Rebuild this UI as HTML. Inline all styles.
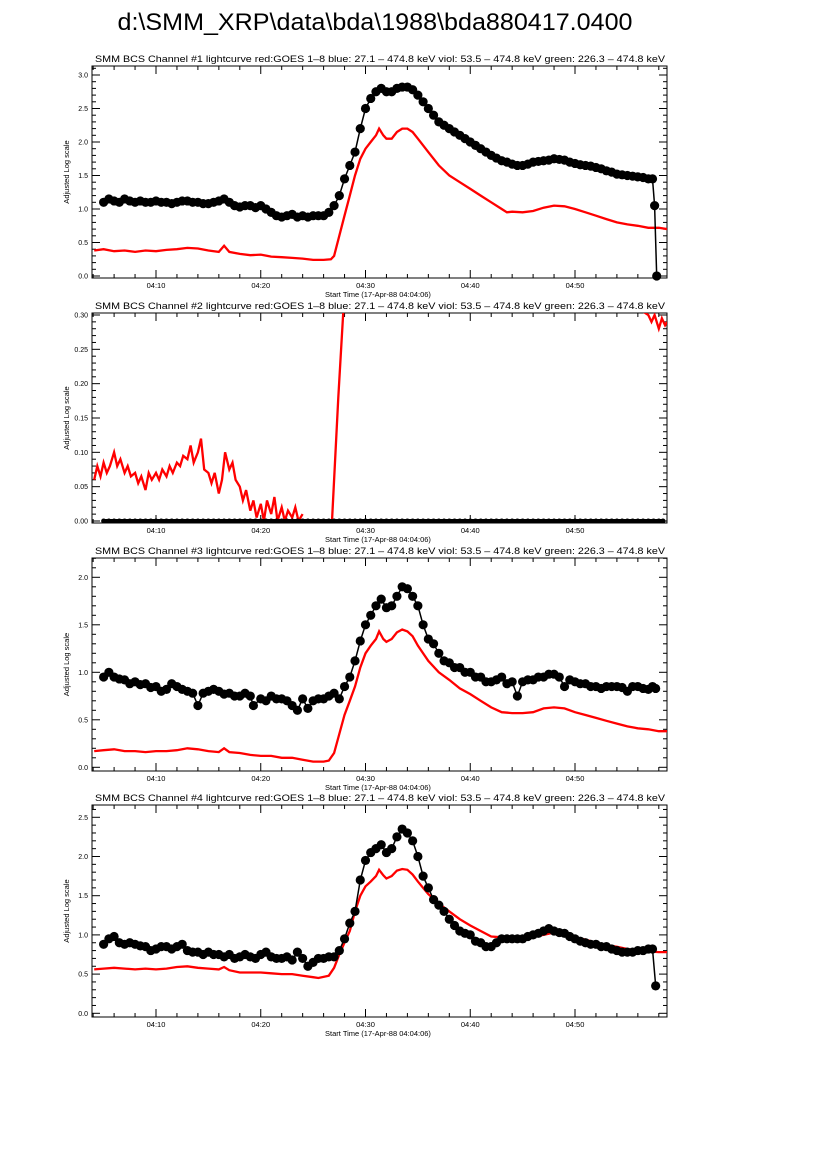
<!DOCTYPE html>
<html><head><meta charset="utf-8"><style>
html,body{margin:0;padding:0;background:#fff;width:826px;height:1169px;overflow:hidden}
svg{display:block;font-family:"Liberation Sans",sans-serif}
</style></head><body>
<svg id="fig" width="826" height="1169" viewBox="0 0 826 1169">
<text x="375" y="30" font-size="24" text-anchor="middle" textLength="515" lengthAdjust="spacingAndGlyphs">d:\SMM_XRP\data\bda\1988\bda880417.0400</text>
</svg>
<script>
// ---- data (time in minutes after 04:00) ----
const xTickLabels = ["04:10","04:20","04:30","04:40","04:50"];
const xTickMinutes = [10,20,30,40,50];

const p1BlackT = [5,5.5,6,6.5,7,7.5,8,8.5,9,9.5,10,10.5,11,11.5,12,12.5,13,13.5,14,14.5,15,15.5,16,16.5,17,17.5,18,18.5,19,19.5,20,20.5,21,21.5,22,22.5,23,23.5,24,24.5,25,25.5,26,26.5,27,27.5,28,28.5,29,29.5,30,30.5,31,31.5,32,32.5,33,33.5,34,34.5,35,35.5,36,36.5,37,37.5,38,38.5,39,39.5,40,40.5,41,41.5,42,42.5,43,43.5,44,44.5,45,45.5,46,46.5,47,47.5,48,48.5,49,49.5,50,50.5,51,51.5,52,52.5,53,53.5,54,54.5,55,55.5,56,56.5,57,57.4,57.6,57.8];
const p1BlackV = [1.1,1.15,1.12,1.1,1.15,1.12,1.1,1.12,1.1,1.1,1.12,1.1,1.1,1.08,1.1,1.12,1.12,1.1,1.1,1.08,1.08,1.1,1.12,1.15,1.1,1.05,1.03,1.05,1.05,1.02,1.05,1.0,0.95,0.9,0.88,0.9,0.92,0.88,0.9,0.88,0.9,0.9,0.9,0.95,1.05,1.2,1.45,1.65,1.85,2.2,2.5,2.65,2.75,2.8,2.75,2.75,2.8,2.82,2.82,2.78,2.7,2.6,2.5,2.4,2.3,2.25,2.2,2.15,2.1,2.05,2.0,1.95,1.9,1.85,1.8,1.76,1.72,1.7,1.67,1.65,1.65,1.67,1.7,1.71,1.72,1.73,1.75,1.74,1.73,1.7,1.68,1.66,1.65,1.64,1.62,1.6,1.57,1.55,1.52,1.51,1.5,1.49,1.48,1.47,1.45,1.45,1.05,0.0];
const p1RedT = [4.1,5,6,7,8,9,10,11,12,13,14,15,16,16.5,17,18,19,20,21,22,23,24,25,26,26.7,27,27.5,28,28.5,29,29.5,30,30.5,31,31.3,31.7,32,32.5,33,33.5,34,34.5,35,36,37,38,39,40,41,42,43,43.5,44,45,46,47,48,49,50,51,52,53,54,55,56,57,58,58.8];
const p1RedV = [0.38,0.4,0.37,0.38,0.36,0.38,0.37,0.39,0.4,0.42,0.41,0.38,0.36,0.45,0.36,0.33,0.31,0.32,0.29,0.28,0.27,0.26,0.24,0.24,0.25,0.3,0.6,0.9,1.2,1.5,1.75,1.9,2.0,2.1,2.2,2.1,2.05,2.05,2.15,2.2,2.2,2.15,2.05,1.85,1.65,1.5,1.4,1.3,1.2,1.1,1.0,0.95,0.96,0.95,0.97,1.02,1.05,1.04,1.0,0.95,0.9,0.85,0.8,0.77,0.75,0.72,0.72,0.7];

const p2BlackT = [5,5.5,6,6.5,7,7.5,8,8.5,9,9.5,10,10.5,11,11.5,12,12.5,13,13.5,14,14.5,15,15.5,16,16.5,17,17.5,18,18.5,19,19.5,20,20.5,21,21.5,22,22.5,23,23.5,24,24.5,25,25.5,26,26.5,27,27.5,28,28.5,29,29.5,30,30.5,31,31.5,32,32.5,33,33.5,34,34.5,35,35.5,36,36.5,37,37.5,38,38.5,39,39.5,40,40.5,41,41.5,42,42.5,43,43.5,44,44.5,45,45.5,46,46.5,47,47.5,48,48.5,49,49.5,50,50.5,51,51.5,52,52.5,53,53.5,54,54.5,55,55.5,56,56.5,57,57.5,58,58.4];
const p2BlackV = [0,0,0,0,0,0,0,0,0,0,0,0,0,0,0,0,0,0,0,0,0,0,0,0,0,0,0,0,0,0,0,0,0,0,0,0,0,0,0,0,0,0,0,0,0,0,0,0,0,0,0,0,0,0,0,0,0,0,0,0,0,0,0,0,0,0,0,0,0,0,0,0,0,0,0,0,0,0,0,0,0,0,0,0,0,0,0,0,0,0,0,0,0,0,0,0,0,0,0,0,0,0,0,0,0,0,0,0];
const p2RedT = [4.1,4.4,4.7,5,5.3,5.6,6,6.3,6.6,7,7.3,7.6,8,8.3,8.6,9,9.3,9.6,10,10.3,10.6,11,11.3,11.6,12,12.3,12.6,13,13.3,13.6,14,14.3,14.6,15,15.3,15.6,16,16.3,16.6,17,17.3,17.6,18,18.3,18.6,19,19.3,19.6,20,20.3,20.6,21,21.3,21.6,22,22.3,22.6,23,23.3,23.6,24];
const p2RedV = [0.06,0.08,0.065,0.085,0.07,0.08,0.1,0.08,0.09,0.07,0.08,0.065,0.07,0.055,0.065,0.045,0.07,0.06,0.07,0.06,0.075,0.065,0.08,0.07,0.085,0.08,0.095,0.09,0.11,0.085,0.1,0.12,0.075,0.07,0.055,0.07,0.04,0.06,0.1,0.075,0.085,0.06,0.05,0.03,0.045,0.015,0.03,0.005,0.025,0.0,0.03,0.01,0.035,0.0,0.02,0.0,0.015,0.005,0.02,0.0,0.01];
const p2RiseT = [26.8,27.4,27.9];
const p2RiseV = [0.0,0.18,0.31];
const p2TailT = [56.5,57,57.3,57.6,58,58.3,58.6,58.8];
const p2TailV = [0.305,0.3,0.29,0.3,0.28,0.295,0.285,0.29];

const p3BlackT = [5,5.5,6,6.5,7,7.5,8,8.5,9,9.5,10,10.5,11,11.5,12,12.5,13,13.5,14,14.5,15,15.5,16,16.5,17,17.5,18,18.5,19,19.3,20,20.5,21,21.5,22,22.5,23,23.5,24,24.5,25,25.5,26,26.5,27,27.5,28,28.5,29,29.5,30,30.5,31,31.5,32,32.5,33,33.5,34,34.5,35,35.5,36,36.5,37,37.5,38,38.5,39,39.5,40,40.5,41,41.5,42,42.5,43,43.5,44,44.5,45,45.5,46,46.5,47,47.5,48,48.5,49,49.5,50,50.5,51,51.5,52,52.5,53,53.5,54,54.5,55,55.5,56,56.5,57,57.4,57.7];
const p3BlackV = [0.95,1.0,0.95,0.93,0.92,0.88,0.9,0.87,0.88,0.84,0.85,0.8,0.82,0.88,0.85,0.82,0.8,0.78,0.65,0.78,0.8,0.82,0.8,0.77,0.78,0.75,0.75,0.78,0.75,0.65,0.72,0.7,0.75,0.72,0.72,0.7,0.65,0.6,0.72,0.62,0.7,0.72,0.72,0.75,0.78,0.72,0.85,0.95,1.12,1.33,1.5,1.6,1.7,1.77,1.68,1.7,1.8,1.9,1.88,1.8,1.7,1.5,1.35,1.3,1.2,1.12,1.1,1.05,1.05,1.0,1.0,0.95,0.95,0.9,0.9,0.92,0.95,0.88,0.9,0.75,0.9,0.92,0.92,0.95,0.95,0.98,0.98,0.95,0.85,0.92,0.9,0.88,0.88,0.85,0.85,0.83,0.85,0.85,0.85,0.84,0.8,0.85,0.85,0.83,0.82,0.85,0.83,0.37];
const p3RedT = [4.1,5,6,7,8,9,10,11,12,13,14,15,16,16.5,17,18,19,20,21,22,23,24,25,26,26.5,27,27.5,28,28.5,29,29.5,30,30.5,31,31.3,31.7,32,32.5,33,33.5,34,34.5,35,36,37,38,39,40,41,42,43,44,45,46,47,48,49,50,51,52,53,54,55,56,57,58,58.8];
const p3RedV = [0.17,0.18,0.19,0.17,0.17,0.16,0.17,0.17,0.18,0.2,0.19,0.17,0.16,0.2,0.16,0.15,0.13,0.12,0.12,0.1,0.1,0.08,0.06,0.06,0.07,0.15,0.35,0.55,0.7,0.85,1.05,1.2,1.28,1.35,1.43,1.35,1.32,1.35,1.42,1.45,1.43,1.38,1.28,1.12,1.0,0.92,0.83,0.77,0.7,0.63,0.58,0.57,0.57,0.58,0.62,0.63,0.62,0.58,0.55,0.52,0.49,0.46,0.43,0.41,0.4,0.38,0.38];

const p4BlackT = [5,5.5,6,6.5,7,7.5,8,8.5,9,9.5,10,10.5,11,11.5,12,12.5,13,13.5,14,14.5,15,15.5,16,16.5,17,17.5,18,18.5,19,19.5,20,20.5,21,21.5,22,22.5,23,23.5,24,24.5,25,25.5,26,26.5,27,27.5,28,28.5,29,29.5,30,30.5,31,31.5,32,32.5,33,33.5,34,34.5,35,35.5,36,36.5,37,37.5,38,38.5,39,39.5,40,40.5,41,41.5,42,42.5,43,43.5,44,44.5,45,45.5,46,46.5,47,47.5,48,48.5,49,49.5,50,50.5,51,51.5,52,52.5,53,53.5,54,54.5,55,55.5,56,56.5,57,57.4,57.7];
const p4BlackV = [0.88,0.95,0.98,0.9,0.88,0.9,0.88,0.86,0.85,0.8,0.82,0.85,0.85,0.82,0.85,0.88,0.8,0.78,0.78,0.75,0.78,0.75,0.75,0.72,0.75,0.7,0.72,0.75,0.72,0.7,0.75,0.78,0.72,0.7,0.7,0.72,0.68,0.78,0.7,0.6,0.65,0.7,0.7,0.72,0.72,0.8,0.95,1.15,1.3,1.7,1.95,2.05,2.1,2.15,2.05,2.1,2.25,2.35,2.3,2.2,2.0,1.75,1.6,1.45,1.38,1.3,1.2,1.12,1.05,1.02,1.0,0.92,0.9,0.85,0.85,0.9,0.95,0.95,0.95,0.95,0.95,0.98,1.0,1.02,1.05,1.08,1.05,1.03,1.02,0.98,0.95,0.92,0.9,0.88,0.88,0.85,0.85,0.82,0.8,0.78,0.78,0.78,0.8,0.8,0.82,0.82,0.35];
const p4RedT = [4.1,5,6,7,8,9,10,11,12,13,14,15,16,16.5,17,18,19,20,21,22,23,24,25,25.5,26.5,27,27.5,28,28.5,29,29.5,30,30.5,31,31.3,31.7,32,32.5,33,33.5,34,34.5,35,36,37,38,39,40,41,42,43,44,45,46,47,48,49,50,51,52,53,54,55,56,57,58,58.8];
const p4RedV = [0.56,0.57,0.58,0.57,0.56,0.57,0.56,0.57,0.59,0.6,0.58,0.57,0.56,0.59,0.55,0.52,0.52,0.52,0.51,0.5,0.5,0.48,0.46,0.45,0.48,0.58,0.75,0.9,1.05,1.3,1.5,1.62,1.68,1.75,1.83,1.76,1.72,1.75,1.82,1.84,1.83,1.77,1.68,1.52,1.4,1.3,1.2,1.12,1.05,0.98,0.97,0.96,0.97,0.98,1.0,1.03,1.0,0.97,0.94,0.9,0.87,0.85,0.82,0.8,0.79,0.78,0.78];

const panelTitles = [1,2,3,4];
const panelYMajor = [[0,0.5,1,1.5,2,2.5,3],[0,0.05,0.1,0.15,0.2,0.25,0.3],[0,0.5,1,1.5,2],[0,0.5,1,1.5,2,2.5]];

// ---- layout ----
const X0=92, X1=667;
function xs(t){ return 156 + (t-10)*10.475; }
const panels = [
 {top:66,bottom:278,zero:276,ppu:67,minor:0.1,dec:1,black:[p1BlackT,p1BlackV],red:[[p1RedT,p1RedV]]},
 {top:313,bottom:523,zero:521,ppu:686.7,minor:0.01,dec:2,black:[p2BlackT,p2BlackV],red:[[p2RedT,p2RedV],[p2RiseT,p2RiseV],[p2TailT,p2TailV]]},
 {top:558,bottom:771,zero:767.3,ppu:95,minor:0.1,dec:1,black:[p3BlackT,p3BlackV],red:[[p3RedT,p3RedV]]},
 {top:805,bottom:1017,zero:1013.3,ppu:78.4,minor:0.1,dec:1,black:[p4BlackT,p4BlackV],red:[[p4RedT,p4RedV]]}
];
const NS="http://www.w3.org/2000/svg";
const svg=document.getElementById('fig');
function mk(tag,attrs,parent){const e=document.createElementNS(NS,tag);for(const k in attrs)e.setAttribute(k,attrs[k]);(parent||svg).appendChild(e);return e;}

panels.forEach((p,i)=>{
  const ys=v=>p.zero - v*p.ppu;
  const g=mk('g',{});
  
  
  const cp=mk('clipPath',{id:'clip'+i},g);
  mk('rect',{x:X0,y:p.top,width:X1-X0,height:p.bottom-p.top},cp);
  const tt=mk('text',{x:380,y:p.top-4,'font-size':9.3,'text-anchor':'middle',textLength:570,lengthAdjust:'spacingAndGlyphs'},g);
  tt.textContent='SMM BCS Channel #'+panelTitles[i]+' lightcurve  red:GOES 1\u20138  blue: 27.1 \u2013 474.8 keV  viol: 53.5 \u2013 474.8 keV  green: 226.3 \u2013 474.8 keV';
  
  
  const box=mk('rect',{x:X0,y:p.top,width:X1-X0,height:p.bottom-p.top,fill:'none',stroke:'#000','stroke-width':1},g);
  
  
  for(let m=4;m<=58;m+=2){const x=xs(m); if(x<X0||x>X1)continue; const L=(m%10===0)?8:4;
    mk('line',{x1:x,y1:p.bottom,x2:x,y2:p.bottom-L,stroke:'#000'},g);
    mk('line',{x1:x,y1:p.top,x2:x,y2:p.top+L,stroke:'#000'},g);}
  xTickMinutes.forEach((m,k)=>{const t=mk('text',{x:xs(m),y:p.bottom+10,'font-size':7.5,'text-anchor':'middle'},g);t.textContent=xTickLabels[k];
    
    });
  const xl=mk('text',{x:378,y:p.bottom+19,'font-size':7.5,'text-anchor':'middle'},g);
  xl.textContent='Start Time (17-Apr-88 04:04:06)';
  
  
  const topV=(p.zero-p.top)/p.ppu;
  for(let k=0;k*p.minor<=topV+1e-9;k++){const v=k*p.minor;const y=ys(v);const major=panelYMajor[i].some(q=>Math.abs(q-v)<1e-9);const L=major?8:4;
    mk('line',{x1:X0,y1:y,x2:X0+L,y2:y,stroke:'#000'},g);
    mk('line',{x1:X1,y1:y,x2:X1-L,y2:y,stroke:'#000'},g);}
  panelYMajor[i].forEach(v=>{const t=mk('text',{x:X0-4,y:ys(v)+2.5,'font-size':7,'text-anchor':'end'},g);t.textContent=v.toFixed(p.dec);
    
    });
  const yc=(p.top+p.bottom)/2;
  const yl=mk('text',{x:0,y:0,'font-size':7.5,'text-anchor':'middle',transform:`translate(69,${yc}) rotate(-90)`},g);
  yl.textContent='Adjusted Log scale';
  
  
  const dg=mk('g',{'clip-path':`url(#clip${i})`},g);
  p.red.forEach(([T,V])=>{const pts=T.map((t,k)=>xs(t).toFixed(1)+','+ys(V[k]).toFixed(1)).join(' ');
    const pl=mk('polyline',{points:pts,fill:'none',stroke:'#f00','stroke-width':2.3},dg);
    
    });
  const [BT,BV]=p.black;
  const bp=mk('polyline',{points:BT.map((t,k)=>xs(t).toFixed(1)+','+ys(BV[k]).toFixed(1)).join(' '),fill:'none',stroke:'#000','stroke-width':(i===1?4:1.5)},g);
  
  
  BT.forEach((t,k)=>{const c=mk('circle',{cx:xs(t),cy:ys(BV[k]),r:(i===1?2.5:4.6),fill:'#000'},g);
    
    });
});
</script>
</body></html>
